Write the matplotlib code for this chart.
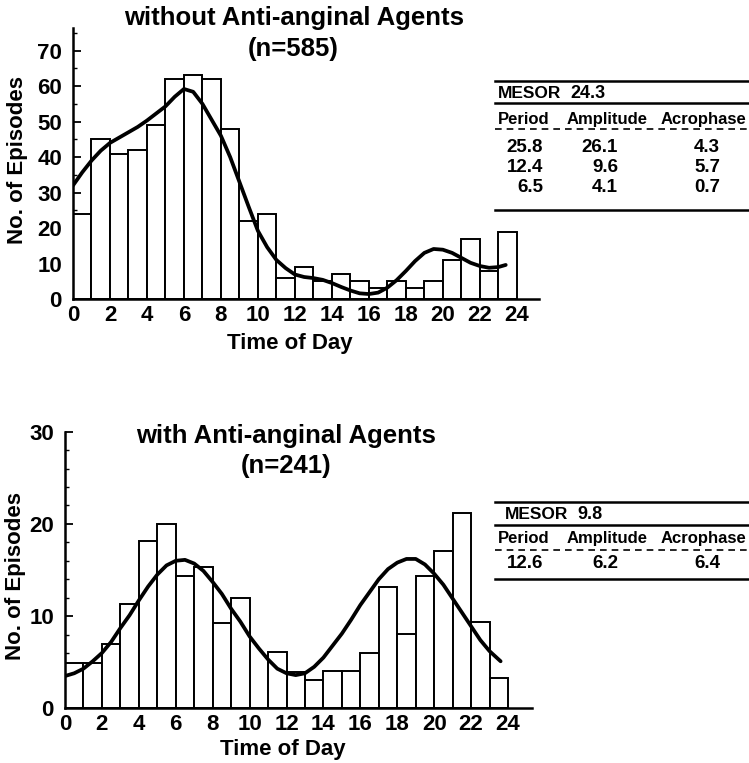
import numpy as np
import matplotlib
matplotlib.use("Agg")
import matplotlib.pyplot as plt
from matplotlib.lines import Line2D

plt.rcParams['font.family'] = ['Liberation Sans', 'DejaVu Sans']
plt.rcParams['font.weight'] = 'bold'

# ---------------- data ----------------
hours = list(range(24))
xticks = list(range(0, 25, 2))

top_counts = [24, 45, 41, 42, 49, 62, 63, 62, 48, 22, 24, 6,
              9, 5, 7, 5, 3, 5, 3, 5, 11, 17, 8, 19]
top_curve_t = [0, 0.5, 1, 1.5, 2, 2.5, 3, 3.5, 4, 4.5, 5, 5.5, 6, 6.5, 7, 7.5,
               8, 8.5, 9, 9.5, 10, 10.5, 11, 11.5, 12, 12.5, 13, 13.5, 14,
               14.5, 15, 15.5, 16, 16.5, 17, 17.5, 18, 18.5, 19, 19.5, 20,
               20.5, 21, 21.5, 22, 22.5, 23, 23.4]
top_curve_y = [32, 35.7, 39, 41.8, 44, 45.5, 47, 48.5, 50.3, 52.3, 54.3, 57,
               59.2, 58.4, 55, 50.5, 46, 40, 33, 26, 19.2, 14.6, 11, 8.7,
               6.9, 6.2, 5.9, 5.4, 4.5, 3.4, 2.4, 1.6, 1.4, 1.8, 3.2, 5.3,
               7.9, 10.7, 13.0, 14.1, 13.9, 13.0, 11.6, 10.2, 9.3, 8.8, 9.0, 9.6]

bot_counts = [4.9, 4.9, 7.0, 11.3, 18.1, 20.0, 14.3, 15.3, 9.3, 12.0, 0, 6.1,
              3.9, 3.1, 4.0, 4.0, 6.0, 13.2, 8.1, 14.3, 17.1, 21.2, 9.4, 3.3]
bot_curve_t = [0, 0.5, 1, 1.5, 2, 2.5, 3, 3.5, 4, 4.5, 5, 5.5, 6, 6.5, 7, 7.5,
               8, 8.5, 9, 9.5, 10, 10.5, 11, 11.5, 12, 12.5, 13, 13.5, 14,
               14.5, 15, 15.5, 16, 16.5, 17, 17.5, 18, 18.5, 19, 19.5, 20,
               20.5, 21, 21.5, 22, 22.5, 23, 23.6]
bot_curve_y = [3.5, 3.8, 4.3, 5.1, 6.0, 7.2, 8.7, 10.1, 11.7, 13.2, 14.5, 15.5,
               16.0, 16.1, 15.7, 14.9, 13.7, 12.4, 10.8, 9.4, 7.8, 6.5, 5.3,
               4.3, 3.8, 3.6, 3.8, 4.5, 5.5, 6.8, 8.1, 9.6, 11.2, 12.6, 14.0,
               15.1, 15.8, 16.2, 16.2, 15.6, 14.6, 13.4, 11.9, 10.4, 8.9, 7.4,
               6.2, 5.1]

top_title = ["without Anti-anginal Agents", "(n=585)"]
bot_title = ["with Anti-anginal Agents", "(n=241)"]
ylabel = "No. of Episodes"
xlabel = "Time of Day"

top_mesor = "24.3"
top_period = ["25.8", "12.4", "6.5"]
top_amp = ["26.1", "9.6", "4.1"]
top_acro = ["4.3", "5.7", "0.7"]
bot_mesor = "9.8"
bot_period = ["12.6"]
bot_amp = ["6.2"]
bot_acro = ["6.4"]
headers = ["Period", "Amplitude", "Acrophase"]

# ---------------- figure ----------------
W, H = 749, 763
fig = plt.figure(figsize=(W / 100, H / 100), dpi=100)


def fx(px):
    return px / W


def fy(py):
    return 1 - py / H


def make_axes(left, right, top, bottom, xmax, ymax, counts, ct, cy, yticks, minor_step):
    ax = fig.add_axes([fx(left), fy(bottom), fx(right) - fx(left), fy(top) - fy(bottom)])
    ax.bar(hours, counts, width=1, align='edge', facecolor='white',
           edgecolor='black', linewidth=1.4, zorder=2)
    ax.plot(ct, cy, color='black', linewidth=2.7, zorder=3,
            solid_joinstyle='round', solid_capstyle='round')
    ax.set_xlim(0, xmax)
    ax.set_ylim(0, ymax)
    for s in ['top', 'right']:
        ax.spines[s].set_visible(False)
    ax.spines['left'].set_linewidth(1.8)
    ax.spines['bottom'].set_linewidth(1.8)
    ax.set_xticks(xticks)
    ax.set_xticklabels([str(v) for v in xticks], fontsize=16, fontweight='bold')
    ax.tick_params(axis='x', length=0, pad=4)
    ax.set_yticks(yticks)
    ax.set_yticklabels([str(v) for v in yticks], fontsize=16, fontweight='bold')
    ax.tick_params(axis='y', direction='in', length=6, width=1.3, pad=8)
    ax.set_yticks(np.arange(0, ymax + 0.01, minor_step), minor=True)
    ax.tick_params(axis='y', which='minor', direction='in', length=3, width=1.0)
    ax.patch.set_alpha(0)
    return ax


ax1 = make_axes(73, 539, 28.3, 299, 25.2, 76.3, top_counts, top_curve_t, top_curve_y,
                [0, 10, 20, 30, 40, 50, 60, 70], 5)
ax2 = make_axes(65, 532, 431.7, 708.3, 25.3, 30, bot_counts, bot_curve_t, bot_curve_y,
                [0, 10, 20, 30], 2)

# titles and labels
fig.text(fx(294), fy(18), top_title[0], ha='center', va='center', fontsize=18.5, fontweight='bold')
fig.text(fx(293), fy(49), top_title[1], ha='center', va='center', fontsize=18.5, fontweight='bold')
fig.text(fx(286), fy(436), bot_title[0], ha='center', va='center', fontsize=18.5, fontweight='bold')
fig.text(fx(286), fy(466), bot_title[1], ha='center', va='center', fontsize=18.5, fontweight='bold')

fig.text(fx(18), fy(160), ylabel, rotation=90, ha='center', va='center', fontsize=16, fontweight='bold')
fig.text(fx(16), fy(576), ylabel, rotation=90, ha='center', va='center', fontsize=16, fontweight='bold')
fig.text(fx(290), fy(343), xlabel, ha='center', va='center', fontsize=16, fontweight='bold')
fig.text(fx(283), fy(750), xlabel, ha='center', va='center', fontsize=16, fontweight='bold')


def hline(y, dashed=False, lw=1.8):
    fig.add_artist(Line2D([fx(495), fx(749)], [fy(y), fy(y)], color='black',
                          linewidth=lw, linestyle=(0, (4, 3)) if dashed else '-'))


def table(y_top, mesor_x, mesor, y_line2, y_head, y_dash, rows_y, y_bot,
          periods, amps, acros):
    hline(y_top)
    fig.text(fx(mesor_x), fy(y_top + 12.6), "MESOR", ha='left', va='center', fontsize=12.5, fontweight='bold')
    fig.text(fx(mesor_x + 72), fy(y_top + 12.6), mesor, ha='left', va='center', fontsize=13, fontweight='bold')
    hline(y_line2)
    fig.text(fx(498), fy(y_head), headers[0], ha='left', va='center', fontsize=12, fontweight='bold')
    fig.text(fx(567), fy(y_head), headers[1], ha='left', va='center', fontsize=12, fontweight='bold')
    fig.text(fx(661), fy(y_head), headers[2], ha='left', va='center', fontsize=12, fontweight='bold')
    hline(y_dash, dashed=True, lw=1.2)
    for i, ry in enumerate(rows_y):
        fig.text(fx(543), fy(ry), periods[i], ha='right', va='center', fontsize=13.5, fontweight='bold')
        fig.text(fx(618), fy(ry), amps[i], ha='right', va='center', fontsize=13.5, fontweight='bold')
        fig.text(fx(707), fy(ry), acros[i], ha='center', va='center', fontsize=13.5, fontweight='bold')
    hline(y_bot)


table(80.7, 498, top_mesor, 103.3, 119.3, 129, [147, 167, 187], 210,
      top_period, top_amp, top_acro)
table(501.7, 505, bot_mesor, 525, 538.3, 550, [564], 579.3,
      bot_period, bot_amp, bot_acro)

fig.savefig("out.png", dpi=100, facecolor='white')
